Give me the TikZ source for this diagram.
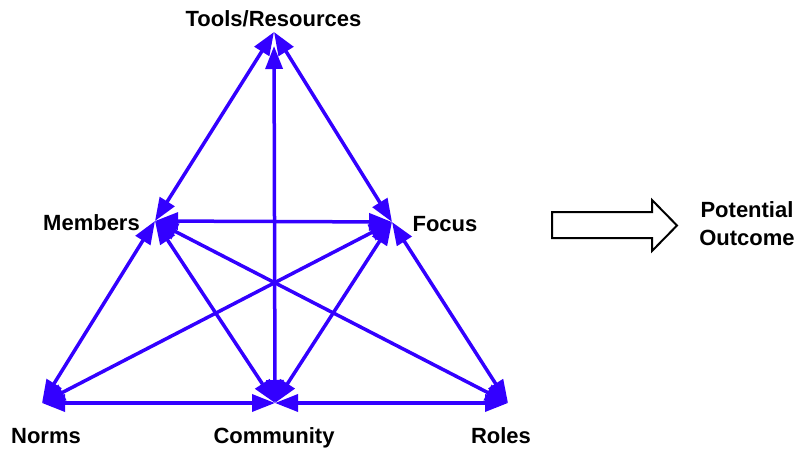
\documentclass[tikz,border=0pt]{standalone}
\usepackage{fontspec}
\setmainfont{Liberation Sans}
\usetikzlibrary{arrows.meta}
\definecolor{linkblue}{RGB}{51,0,255}
\begin{document}
\begin{tikzpicture}[x=1pt,y=-1pt,
  link/.style={linkblue, line width=3.5pt,
    {Triangle[length=23pt,width=17pt]}-{Triangle[length=23pt,width=17pt]}},
  lbl/.style={font=\fontsize{22}{28}\selectfont\bfseries, inner sep=0pt},
  outcome/.style={draw=black, line width=2pt, fill=white, line join=miter}]
\useasboundingbox (0,0) rectangle (798,452);

% meeting points of the links
\coordinate (T) at (274,32);
\coordinate (M) at (155,221);
\coordinate (F) at (392,222);
\coordinate (N) at (42,403);
\coordinate (C) at (275,403);
\coordinate (R) at (508,403);

% labels
\node[lbl, anchor=base] (tl) at (273.5,27) {Tools/Resources};
\node[lbl, anchor=base] (ml) at (91.5,230) {Members};
\node[lbl, anchor=base] (fl) at (445,231) {Focus};
\node[lbl, anchor=base] (nl) at (46,443) {Norms};
\node[lbl, anchor=base] (cl) at (274,443) {Community};
\node[lbl, anchor=base] (rl) at (501,443) {Roles};
\node[lbl, align=center] (po) at (747,224) {Potential\\Outcome};

% links between the six elements
\draw[link] (T) -- (M);
\draw[link] (T) -- (F);
\draw[link, shorten <=14pt] (T) -- (C);
\draw[link] (M) -- (F);
\draw[link] (M) -- (N);
\draw[link] (M) -- (C);
\draw[link] (M) -- (R);
\draw[link] (F) -- (N);
\draw[link] (F) -- (C);
\draw[link] (F) -- (R);
\draw[link] (N) -- (C);
\draw[link] (C) -- (R);

% block arrow towards the outcome
\draw[outcome] (552,212) -- (652,212) -- (652,200) -- (677,225.5)
  -- (652,251) -- (652,238) -- (552,238) -- cycle;
\end{tikzpicture}
\end{document}
